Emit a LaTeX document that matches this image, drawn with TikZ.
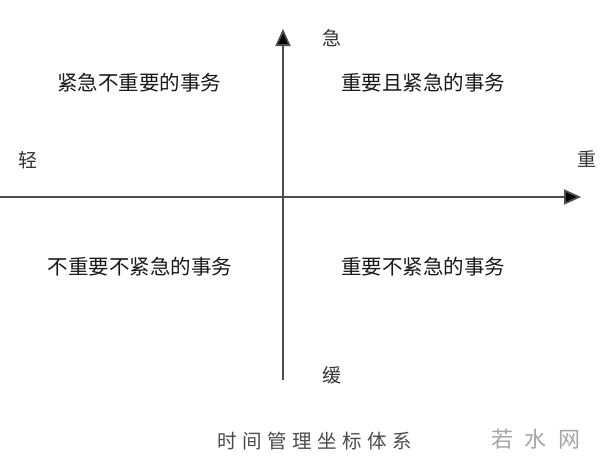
\documentclass[tikz,border=0pt]{standalone}
\usepackage{fontspec}
\newfontfamily\cjk{Noto Sans CJK SC}
\usetikzlibrary{arrows.meta}

\tikzset{
  axis/.style={draw=black!70, line width=1.8pt,
               -{Triangle[length=17pt, width=15pt, fill=black]}},
  axislabel/.style={font=\cjk\fontsize{19}{19}\selectfont, text=black!80},
  quadlabel/.style={font=\cjk\fontsize{20.5}{21}\selectfont, text=black!90},
}

\begin{document}
\begin{tikzpicture}[x=1pt, y=-1pt]
      \useasboundingbox[fill=white] (0, 0) rectangle (600, 456);
      % axes
      \coordinate (left)   at (0, 197);
      \coordinate (right)  at (581, 197);
      \coordinate (bottom) at (283, 380);
      \coordinate (top)    at (283, 29);
      \draw[axis] (left) -- (right);
      \draw[axis] (bottom) -- (top);
      % axis ends
      \node[axislabel] (urgent)    at (332, 38)  {急};
      \node[axislabel] (slow)      at (332, 375) {缓};
      \node[axislabel] (light)     at (28, 160)  {轻};
      \node[axislabel] (important) at (587, 159) {重};
      % quadrants
      \node[quadlabel] (ul) at (139, 83)  {紧急不重要的事务};
      \node[quadlabel] (ur) at (423, 83)  {重要且紧急的事务};
      \node[quadlabel] (ll) at (140, 267) {不重要不紧急的事务};
      \node[quadlabel] (lr) at (423, 267) {重要不紧急的事务};
      % caption
      \node[font=\cjk\fontsize{19.5}{20}\selectfont, text=black!70] (caption) at (315, 441)
        {时\hspace{5.5pt}间\hspace{5.5pt}管\hspace{5.5pt}理\hspace{5.5pt}坐\hspace{5.5pt}标\hspace{5.5pt}体\hspace{5.5pt}系};
      \node[font=\cjk\fontsize{22}{22}\selectfont, text=black!35] (mark) at (536, 439)
        {若\hspace{12pt}水\hspace{12pt}网};
    \end{tikzpicture}
\end{document}
